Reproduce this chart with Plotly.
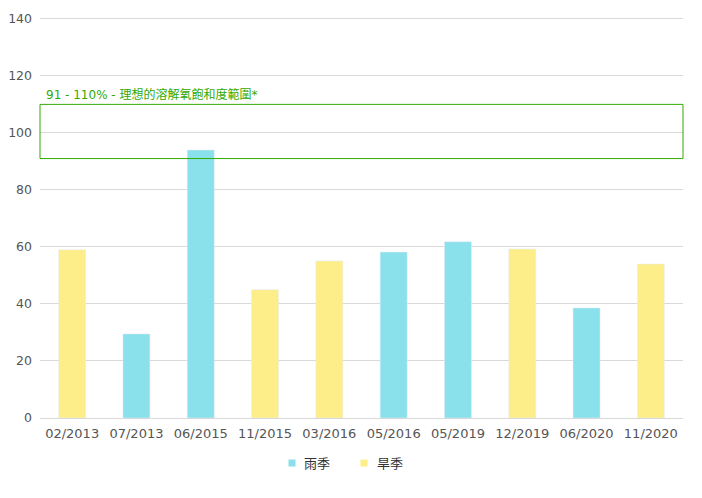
import plotly.graph_objects as go

dates = ['02/2013', '07/2013', '06/2015', '11/2015', '03/2016',
         '05/2016', '05/2019', '12/2019', '06/2020', '11/2020']
values = [59, 29.5, 94, 45, 55.1, 58.2, 61.8, 59.3, 38.6, 54]
seasons = ['dry', 'wet', 'wet', 'dry', 'dry', 'wet', 'wet', 'dry', 'wet', 'dry']
band_low = 91
band_high = 110
band_label = '91 - 110% - 理想的溶解氧飽和度範圍*'

wet_name = '雨季'
dry_name = '旱季'
wet_color = '#8ae1eb'
dry_color = '#fdee8a'
green = '#33aa00'

wet_vals = [v if s == 'wet' else None for v, s in zip(values, seasons)]
dry_vals = [v if s == 'dry' else None for v, s in zip(values, seasons)]

fig = go.Figure()
fig.add_trace(go.Bar(x=dates, y=wet_vals, name=wet_name, marker_color=wet_color, width=0.42))
fig.add_trace(go.Bar(x=dates, y=dry_vals, name=dry_name, marker_color=dry_color, width=0.42))

# target range band
fig.add_shape(type='rect', xref='paper', x0=0, x1=1, yref='y', y0=band_low, y1=band_high,
              line=dict(color=green, width=1), fillcolor='rgba(0,0,0,0)', layer='above')
fig.add_annotation(xref='paper', x=0.006, yref='y', y=band_high, text=band_label,
                   showarrow=False, xanchor='left', yanchor='bottom',
                   font=dict(color=green, size=12, family='DejaVu Sans, Noto Sans CJK TC'))

# hand-made legend (small squares, tight text)
leg_y = -0.112
for nm, c, xs, xt in [(wet_name, wet_color, 0.3919, 0.4075), (dry_name, dry_color, 0.5039, 0.521)]:
    fig.add_shape(type='rect', xref='paper', yref='paper', xsizemode='pixel', ysizemode='pixel',
                  xanchor=xs, yanchor=leg_y, x0=-3.5, x1=3.5, y0=-3.5, y1=3.5,
                  fillcolor=c, line_width=0)
    fig.add_annotation(xref='paper', yref='paper', x=xt, y=leg_y, text=nm, showarrow=False,
                       xanchor='left', yanchor='middle', font=dict(size=13, color='#333'))

fig.update_layout(
    width=686, height=482,
    margin=dict(l=32, r=11, t=8, b=72),
    barmode='overlay',
    showlegend=False,
    plot_bgcolor='white', paper_bgcolor='white',
    font=dict(family='DejaVu Sans, Noto Sans CJK TC', size=13, color='#555'),
)
fig.update_xaxes(showline=True, linecolor='#d9d9d9', linewidth=1, ticks='', automargin=False,
                 tickfont=dict(size=13), ticklabelstandoff=3)
fig.update_yaxes(range=[0, 141], tickvals=[0, 20, 40, 60, 80, 100, 120, 140],
                 gridcolor='#d9d9d9', gridwidth=1, zeroline=False, automargin=False,
                 ticks='', tickfont=dict(size=12.5), ticklabelstandoff=7)

fig.write_html("out.html")
